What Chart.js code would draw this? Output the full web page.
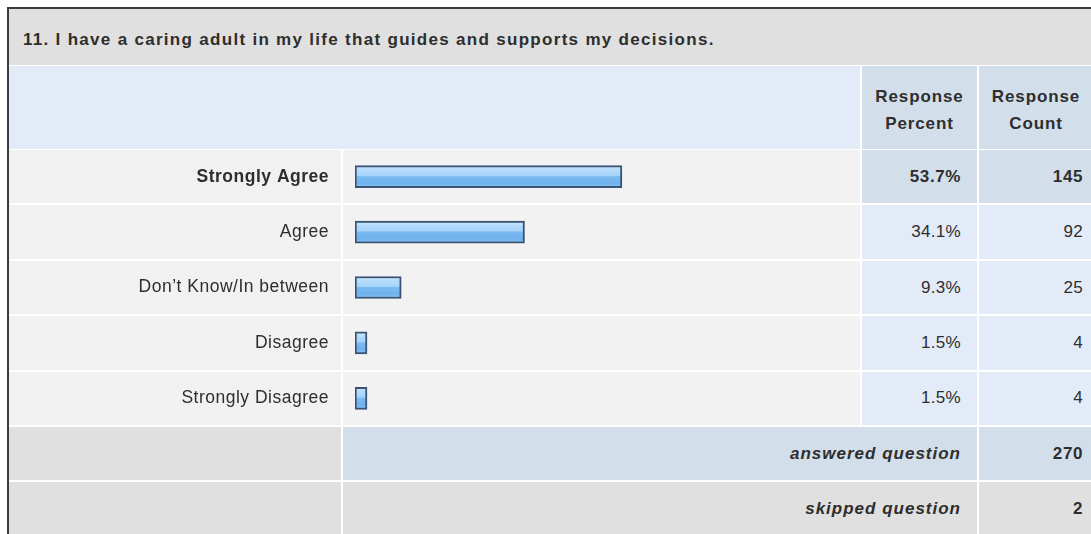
<!DOCTYPE html>
<html>
<head>
<meta charset="utf-8">
<script src="https://cdn.jsdelivr.net/npm/chart.js@4"></script>
<style>
  html, body { margin: 0; padding: 0; background: #ffffff; }
  body { width: 1091px; height: 534px; position: relative; overflow: hidden;
         font-family: "Liberation Sans", Arial, sans-serif; color: #2e2e2e; }
  .cell { position: absolute; }
  .txt { position: absolute; white-space: nowrap; line-height: 20px; height: 20px; }
  #chartWrap { position: absolute; left: 8px; top: 149px; width: 853px; height: 277px; }
</style>
</head>
<body>
<div id="layout"></div>
<div id="chartWrap"><canvas id="c" width="853" height="277"></canvas></div>
<script>
// ---- data ----
const questionTitle = "11. I have a caring adult in my life that guides and supports my decisions.";
const categories = ["Strongly Agree", "Agree", "Don\u2019t Know/In between", "Disagree", "Strongly Disagree"];
const percents = [53.7, 34.1, 9.3, 1.5, 1.5];
const counts = [145, 92, 25, 4, 4];
const headerPercent = ["Response", "Percent"];
const headerCount = ["Response", "Count"];
const summaryLabels = ["answered question", "skipped question"];
const summaryValues = [270, 2];

// ---- table layout (HTML) ----
const L = document.getElementById('layout');
function box(x, y, w, h, bg) {
  const d = document.createElement('div');
  d.className = 'cell';
  d.style.cssText = `left:${x}px;top:${y}px;width:${w}px;height:${h}px;background:${bg};`;
  L.appendChild(d);
  return d;
}
function text(str, opts) {
  const d = document.createElement('div');
  d.className = 'txt';
  d.textContent = str;
  let css = `top:${opts.cy - 10}px;font-size:${opts.size}px;font-weight:${opts.bold ? 'bold' : 'normal'};`;
  if (opts.italic) css += 'font-style:italic;';
  if (opts.ls) css += `letter-spacing:${opts.ls}px;`;
  if (opts.left !== undefined) css += `left:${opts.left}px;`;
  if (opts.right !== undefined) css += `right:${1091 - opts.right}px;text-align:right;`;
  if (opts.center !== undefined) css += `left:${opts.center - 100}px;width:200px;text-align:center;`;
  d.style.cssText = css;
  L.appendChild(d);
}
const GRAY = '#e0e0e0', LIGHT = '#f1f1f1', BLUE = '#e2ebf7', BLUE2 = '#d3deeb';
// outer border
box(7, 7, 1084, 2, '#3c3c3c');
box(7, 7, 2, 527, '#3c3c3c');
// title
box(9, 9, 1082, 56, GRAY);
text(questionTitle, { left: 23, cy: 40, size: 17, bold: true, ls: 1.3 });
// header
box(9, 66, 851, 83, BLUE);
box(862, 66, 115, 83, BLUE2);
box(979, 66, 112, 83, BLUE2);
text(headerPercent[0], { center: 919.5, cy: 97, size: 17, bold: true, ls: 0.9 });
text(headerPercent[1], { center: 919.5, cy: 124, size: 17, bold: true, ls: 0.9 });
text(headerCount[0], { center: 1036, cy: 97, size: 17, bold: true, ls: 0.9 });
text(headerCount[1], { center: 1036, cy: 124, size: 17, bold: true, ls: 0.9 });
// data rows
const rowH = 277 / categories.length;
for (let i = 0; i < categories.length; i++) {
  const y0 = Math.round(149 + i * rowH) + 1;
  const y1 = Math.round(149 + (i + 1) * rowH) - 1;
  const h = y1 - y0;
  const cy = 149 + (i + 0.5) * rowH;
  box(9, y0, 332, h, LIGHT);
  box(343, y0, 517, h, '#f2f2f2');
  box(862, y0, 115, h, i === 0 ? BLUE2 : BLUE);
  box(979, y0, 112, h, i === 0 ? BLUE2 : BLUE);
  text(percents[i].toFixed(1) + '%', { right: 961, cy: cy, size: 17, bold: i === 0, ls: i === 0 ? 0.6 : 0.3 });
  text(String(counts[i]), { right: 1083, cy: cy, size: 17, bold: i === 0, ls: i === 0 ? 0.6 : 0.3 });
}
// summary rows
const sumTops = [427, 482];
for (let j = 0; j < 2; j++) {
  const y0 = sumTops[j];
  const h = j === 0 ? 53 : 60;
  const bg = j === 0 ? BLUE2 : GRAY;
  box(9, y0, 332, h, GRAY);
  box(343, y0, 634, h, bg);
  box(979, y0, 112, h, bg);
  const cy = y0 + 27;
  text(summaryLabels[j], { right: 961, cy: cy, size: 17, bold: true, italic: true, ls: 1 });
  text(String(summaryValues[j]), { right: 1083, cy: cy, size: 17, bold: true, ls: 0.6 });
}

// ---- bars (Chart.js) ----
function barGradient(context) {
  const chart = context.chart;
  if (!chart.chartArea) return '#8cc6f5';
  const yc = chart.scales.y.getPixelForValue(context.dataIndex);
  const g = chart.ctx.createLinearGradient(0, yc - 11, 0, yc + 11);
  g.addColorStop(0, '#cde8fe');
  g.addColorStop(0.2, '#b4dbfc');
  g.addColorStop(0.45, '#a6d3fa');
  g.addColorStop(0.5, '#7bbaf1');
  g.addColorStop(0.8, '#6fb2ee');
  g.addColorStop(1, '#8ec8f6');
  return g;
}
const spacingPlugin = {
  id: 'spacing',
  beforeDraw(chart) { try { chart.ctx.letterSpacing = '0.5px'; } catch (e) {} }
};
new Chart(document.getElementById('c'), {
  type: 'bar',
  data: {
    labels: categories,
    datasets: [{
      data: percents,
      backgroundColor: barGradient,
      borderColor: '#3a5375',
      borderWidth: 2,
      borderSkipped: false,
      barThickness: 22,
      minBarLength: 12
    }]
  },
  options: {
    indexAxis: 'y',
    responsive: false,
    devicePixelRatio: 1,
    animation: false,
    layout: { padding: 0, autoPadding: false },
    plugins: { legend: { display: false }, tooltip: { enabled: false } },
    scales: {
      x: { display: false, min: 0, max: 101.8 },
      y: {
        grid: { display: false, drawTicks: false },
        border: { display: false },
        afterFit(scale) {
          scale.width = 347;
          scale.paddingTop = 0;
          scale.paddingBottom = 0;
        },
        ticks: {
          padding: 26,
          color: '#2e2e2e',
          font: (ctx) => ({ family: '"Liberation Sans", Arial, sans-serif', size: 17.5, weight: ctx.index === 0 ? 'bold' : 'normal' })
        }
      }
    }
  },
  plugins: [spacingPlugin]
});
</script>
</body>
</html>
